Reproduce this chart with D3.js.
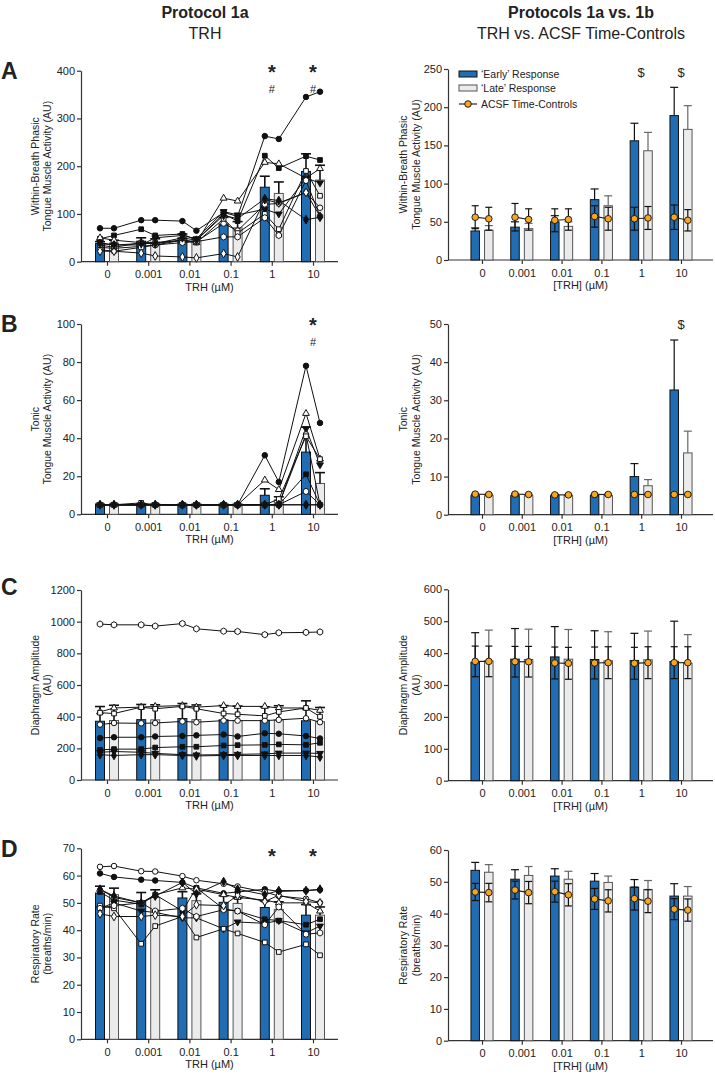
<!DOCTYPE html>
<html>
<head>
<meta charset="utf-8">
<script src="https://cdn.jsdelivr.net/npm/d3@7"></script>
<style>
  body { margin: 0; background: #fff; }
  text { font-family: "Liberation Sans", Arial, sans-serif; fill: #222; }
</style>
</head>
<body>
<svg id="chart" width="715" height="1075"></svg>
<script>
const doses = ["0", "0.001", "0.01", "0.1", "1", "10"];

// group means and SEM, 'early' and 'late' response at each dose
const phasicEarly = [38, 43, 50, 79, 156, 189];
const phasicEarlySem = [4, 7, 8, 14, 23, 37];
const phasicLate = [39, 41, 44, 71, 143, 171];
const phasicLateSem = [6, 7, 6, 13, 24, 31];
const phasicAcsfEarly = [56, 56, 52, 57, 54, 56];
const phasicAcsfEarlySem = [15, 18, 15, 14, 15, 16];
const phasicAcsfLate = [54, 53, 53, 54, 55, 52];
const phasicAcsfLateSem = [15, 14, 14, 15, 15, 14];

const tonicEarly = [5, 5, 5, 5, 10, 32.7];
const tonicEarlySem = [0.3, 0.5, 0.3, 0.3, 3.4, 13.1];
const tonicLate = [5, 5, 5, 5, 7.6, 16.2];
const tonicLateSem = [0.3, 0.3, 0.3, 0.3, 1.6, 5.7];
const tonicAcsfEarly = [5.4, 5.4, 5.2, 5.3, 5.3, 5.3];
const tonicAcsfEarlySem = [0.2, 0.2, 0.2, 0.2, 0.2, 0.2];
const tonicAcsfLate = [5.3, 5.3, 5.2, 5.3, 5.3, 5.3];
const tonicAcsfLateSem = [0.2, 0.2, 0.2, 0.2, 0.2, 0.2];

const diaEarly = [371, 381, 388, 380, 377, 374];
const diaEarlySem = [93, 96, 95, 90, 85, 126];
const diaLate = [376, 380, 381, 376, 379, 368];
const diaLateSem = [96, 95, 93, 91, 90, 90];
const diaAcsfEarly = [374, 373, 369, 369, 368, 370];
const diaAcsfEarlySem = [48, 48, 50, 50, 50, 50];
const diaAcsfLate = [374, 373, 368, 370, 370, 370];
const diaAcsfLateSem = [48, 48, 50, 50, 50, 50];

const rateEarly = [53.6, 50.8, 51.8, 50.2, 48.3, 45.5];
const rateEarlySem = [2.5, 3.0, 2.3, 2.4, 2.4, 3.9];
const rateLate = [53.0, 52.0, 50.8, 49.8, 47.6, 45.5];
const rateLateSem = [2.4, 2.8, 2.5, 2.0, 2.8, 3.0];
const rateAcsfEarly = [46.8, 47.4, 46.9, 44.6, 44.7, 41.4];
const rateAcsfEarlySem = [2.7, 2.8, 3.3, 3.3, 3.6, 3.3];
const rateAcsfLate = [46.6, 46.6, 45.9, 44.0, 43.9, 41.1];
const rateAcsfLateSem = [2.9, 3.5, 3.5, 3.5, 3.6, 3.5];

// individual animals, values ordered early/late per dose
const phasicAnimals = [
  [70, 70, 87, 87, 85, 65, 103, 95, 263, 257, 345, 356],
  [48, 55, 68, 55, 58, 45, 100, 85, 222, 196, 221, 213],
  [50, 45, 40, 38, 45, 40, 133, 127, 208, 205, 175, 195],
  [40, 35, 35, 50, 55, 48, 105, 98, 110, 100, 175, 165],
  [30, 28, 32, 35, 45, 42, 80, 65, 120, 122, 145, 113],
  [35, 30, 40, 40, 45, 40, 90, 60, 100, 68, 190, 138],
  [25, 22, 30, 35, 40, 42, 52, 52, 92, 55, 170, 95],
  [22, 22, 18, 12, 10, 8, 17, 10, 130, 123, 145, 95],
  [38, 35, 38, 38, 50, 45, 97, 90, 132, 128, 88, 93]
];
const tonicAnimals = [
  [5, 5, 5, 5, 5, 5, 5, 5, 31, 17, 78, 48],
  [5, 5, 5, 5, 5, 5, 5, 5, 5, 5, 21, 5],
  [5, 5, 5, 5, 5, 5, 5, 5, 18, 13, 53, 29],
  [5, 5, 5, 5, 5, 5, 5, 5, 5, 5, 45, 26],
  [5, 5, 5, 5, 5, 5, 5, 5, 5, 5, 42, 5],
  [5, 5, 6, 5, 5, 5, 5, 5, 5, 8, 41, 29],
  [5, 5, 5, 5, 5, 5, 5, 5, 5, 5, 12, 5],
  [5, 5, 5, 5, 5, 5, 5, 5, 5, 5, 5, 5],
  [5, 5, 5, 5, 5, 5, 5, 5, 5, 5, 5, 5]
];
const diaAnimals = [
  [265, 270, 270, 275, 278, 282, 287, 275, 295, 292, 278, 262],
  [190, 195, 195, 205, 210, 210, 218, 220, 222, 225, 222, 235],
  [430, 455, 460, 465, 470, 460, 470, 465, 465, 455, 455, 440],
  [175, 180, 175, 168, 160, 158, 160, 162, 165, 170, 170, 168],
  [350, 360, 358, 360, 370, 365, 375, 375, 375, 380, 390, 365],
  [425, 420, 460, 450, 465, 450, 420, 415, 405, 430, 455, 400],
  [985, 980, 980, 972, 988, 955, 940, 938, 918, 930, 932, 935],
  null,
  [160, 155, 160, 160, 155, 152, 155, 155, 155, 155, 155, 145]
];
const rateAnimals = [
  [60.8, 59.5, 58.5, 58.2, 57.5, 55.5, 53.5, 54, 55, 54.2, 54.5, 54.8],
  [54, 51, 49.5, 53, 47, 55.5, 47.8, 47, 44, 43.5, 42, 44],
  [55, 52, 50, 53, 55.5, 55, 53, 52, 51, 50, 50, 47],
  [48, 50, 47, 46.5, 44.5, 44.5, 40.5, 43, 42.5, 43.5, 39, 41.5],
  [63.2, 63.5, 61.6, 61.5, 59.8, 58.3, 57, 56, 54, 52.5, 51.5, 50.1],
  [49, 48, 35, 41.5, 45, 37.3, 40.5, 38.8, 35.5, 32, 34.8, 30.8],
  [48, 49, 50, 47, 48, 45, 47.5, 47, 42, 48.5, 38.5, 39],
  [46, 45, 45, 45.5, 45, 49.3, 49, 52.8, 50.5, 52.8, 50.5, 50],
  [55, 52.5, 50, 52.5, 57.5, 53.3, 57.8, 55, 53, 54.5, 54.5, 55]
];

const blue = "#216db3";
const light = "#ebebeb";
const orange = "#f5a623";

// open hexagon used by one animal
const symbolHexagon = {
  draw(context, size) {
    const r = Math.sqrt(size / 2.598);
    for (let k = 0; k < 6; k++) {
      const a = Math.PI / 6 + k * Math.PI / 3;
      const px = r * Math.cos(a), py = r * Math.sin(a);
      if (k === 0) context.moveTo(px, py); else context.lineTo(px, py);
    }
    context.closePath();
  }
};

const markers = [
  { type: d3.symbolCircle, fill: "#111", rot: 0, size: 24 },
  { type: d3.symbolSquare, fill: "#111", rot: 0, size: 22 },
  { type: d3.symbolTriangle, fill: "#fff", rot: 0, size: 20 },
  { type: d3.symbolTriangle, fill: "#111", rot: 180, size: 20 },
  { type: d3.symbolCircle, fill: "#fff", rot: 0, size: 24 },
  { type: d3.symbolSquare, fill: "#fff", rot: 0, size: 22 },
  { type: symbolHexagon, fill: "#fff", rot: 0, size: 26 },
  { type: d3.symbolDiamond, fill: "#fff", rot: 0, size: 22 },
  { type: d3.symbolDiamond, fill: "#111", rot: 0, size: 22 }
];

const svg = d3.select("#chart");

const cols = {
  left: { axisX: 81, first: 107, last: 313, end: 338, off: 7, bw: 9, t1: 35, t2: 47.5, xTitle: "TRH (\u00b5M)" },
  right: { axisX: 448, first: 482, last: 681, end: 713, off: 6.8, bw: 8.5, t1: 403, t2: 416, xTitle: "[TRH] (\u00b5M)" }
};

function frame(c, top, bottom, max, step, yTitle) {
  const x = d3.scalePoint().domain(doses).range([c.first, c.last]);
  const y = d3.scaleLinear().domain([0, max]).range([bottom, top]);
  const g = svg.append("g");

  const ya = g.append("g")
    .attr("transform", `translate(${c.axisX},0)`)
    .call(d3.axisLeft(y).tickValues(d3.range(0, max + step / 2, step)).tickFormat(d3.format("d"))
      .tickSize(4).tickSizeOuter(0).tickPadding(2));
  const xa = g.append("g")
    .attr("transform", `translate(0,${bottom})`)
    .call(d3.axisBottom(x).tickSize(4).tickSizeOuter(0).tickPadding(5));
  xa.select(".domain").attr("d", `M${c.axisX},0H${c.end}`);

  [ya, xa].forEach((a) => {
    a.selectAll("path, line").attr("stroke", "#333").attr("stroke-width", 1.2);
    a.selectAll("text").attr("font-size", 11).attr("fill", "#222")
      .attr("font-family", "'Liberation Sans', Arial, sans-serif");
  });

  g.append("text")
    .attr("x", (c.axisX + c.end) / 2)
    .attr("y", bottom + 29)
    .attr("text-anchor", "middle")
    .attr("font-size", 11)
    .text(c.xTitle);

  const mid = (top + bottom) / 2;
  [yTitle[0], yTitle[1]].forEach((t, i) => {
    g.append("text")
      .attr("transform", `translate(${i ? c.t2 : c.t1},${mid}) rotate(-90)`)
      .attr("text-anchor", "middle")
      .attr("dy", "0.35em")
      .attr("font-size", 10.5)
      .text(t);
  });

  return { g, x, y, bottom };
}

function bars(f, c, early, earlySem, late, lateSem, errEarly, errLate) {
  const sets = [
    { vals: early, sem: earlySem, dx: -c.off, fill: blue, stroke: "#111", err: errEarly },
    { vals: late, sem: lateSem, dx: c.off, fill: light, stroke: "#555", err: errLate }
  ];
  sets.forEach((s) => {
    f.g.append("g").selectAll("rect")
      .data(s.vals)
      .join("rect")
      .attr("x", (d, i) => f.x(doses[i]) + s.dx - c.bw / 2)
      .attr("y", (d) => f.y(d))
      .attr("width", c.bw)
      .attr("height", (d) => f.bottom - f.y(d))
      .attr("fill", s.fill)
      .attr("stroke", s.stroke)
      .attr("stroke-width", 1);
    const eg = f.g.append("g").attr("stroke", s.err.color).attr("stroke-width", s.err.width);
    s.vals.forEach((d, i) => {
      const cx = f.x(doses[i]) + s.dx;
      const yt = f.y(d + s.sem[i]);
      eg.append("line").attr("x1", cx).attr("x2", cx).attr("y1", f.y(d)).attr("y2", yt);
      eg.append("line").attr("x1", cx - s.err.cap).attr("x2", cx + s.err.cap).attr("y1", yt).attr("y2", yt);
    });
  });
}

function animals(f, c, series) {
  const xs = [];
  doses.forEach((d) => { xs.push(f.x(d) - c.off); xs.push(f.x(d) + c.off); });
  const line = d3.line().x((d, i) => xs[i]).y((d) => f.y(d));
  const lg = f.g.append("g");
  series.forEach((s) => {
    if (!s) return;
    lg.append("path").attr("d", line(s)).attr("fill", "none").attr("stroke", "#111").attr("stroke-width", 1);
  });
  series.forEach((s, k) => {
    if (!s) return;
    const m = markers[k];
    const sym = d3.symbol().type(m.type).size(m.size);
    lg.append("g").selectAll("path")
      .data(s)
      .join("path")
      .attr("d", sym)
      .attr("transform", (d, i) => `translate(${xs[i]},${f.y(d)}) rotate(${m.rot})`)
      .attr("fill", m.fill)
      .attr("stroke", "#111")
      .attr("stroke-width", 1);
  });
}

function acsf(f, c, early, earlySem, late, lateSem) {
  const ag = f.g.append("g");
  doses.forEach((d, i) => {
    const pts = [
      { x: f.x(d) - c.off, v: early[i], s: earlySem[i] },
      { x: f.x(d) + c.off, v: late[i], s: lateSem[i] }
    ];
    ag.append("line")
      .attr("x1", pts[0].x).attr("x2", pts[1].x)
      .attr("y1", f.y(pts[0].v)).attr("y2", f.y(pts[1].v))
      .attr("stroke", "#222").attr("stroke-width", 1.2);
    pts.forEach((p) => {
      const y1 = f.y(p.v + p.s), y2 = f.y(p.v - p.s);
      ag.append("line").attr("x1", p.x).attr("x2", p.x).attr("y1", y1).attr("y2", y2)
        .attr("stroke", "#111").attr("stroke-width", 1.2);
      [y1, y2].forEach((yy) => {
        ag.append("line").attr("x1", p.x - 3.5).attr("x2", p.x + 3.5).attr("y1", yy).attr("y2", yy)
          .attr("stroke", "#111").attr("stroke-width", 1.2);
      });
    });
    ag.selectAll(null)
      .data(pts)
      .enter()
      .append("circle")
      .attr("cx", (p) => p.x)
      .attr("cy", (p) => f.y(p.v))
      .attr("r", 3.3)
      .attr("fill", orange)
      .attr("stroke", "#111")
      .attr("stroke-width", 0.9);
  });
}

function mark(f, doseIdx, sym, y, size, bold) {
  f.g.append("text")
    .attr("x", f.x(doses[doseIdx]))
    .attr("y", y)
    .attr("text-anchor", "middle")
    .attr("font-size", size)
    .attr("font-weight", bold ? "bold" : "normal")
    .text(sym);
}

const leftErr = { color: "#111", width: 1.6, cap: 5 };
const rightErrE = { color: "#111", width: 1.2, cap: 4 };
const rightErrL = { color: "#666", width: 1.2, cap: 4 };

// ---- Panel A
let f = frame(cols.left, 70.7, 261.7, 400, 100, ["Within-Breath Phasic", "Tongue Muscle Activity (AU)"]);
bars(f, cols.left, phasicEarly, phasicEarlySem, phasicLate, phasicLateSem, leftErr, leftErr);
animals(f, cols.left, phasicAnimals);
[4, 5].forEach((i) => { mark(f, i, "*", 79, 20, true); mark(f, i, "#", 92.5, 11, false); });

f = frame(cols.right, 69, 260, 250, 50, ["Within-Breath Phasic", "Tongue Muscle Activity (AU)"]);
bars(f, cols.right, phasicEarly, phasicEarlySem, phasicLate, phasicLateSem, rightErrE, rightErrL);
acsf(f, cols.right, phasicAcsfEarly, phasicAcsfEarlySem, phasicAcsfLate, phasicAcsfLateSem);
[4, 5].forEach((i) => mark(f, i, "$", 77, 13, false));

// legend
const leg = svg.append("g").attr("transform", "translate(459,0)");
leg.append("rect").attr("x", 0).attr("y", 71).attr("width", 18).attr("height", 6)
  .attr("fill", blue).attr("stroke", "#111");
leg.append("rect").attr("x", 0).attr("y", 85).attr("width", 18).attr("height", 6)
  .attr("fill", light).attr("stroke", "#555");
leg.append("line").attr("x1", 0).attr("x2", 18).attr("y1", 104).attr("y2", 104).attr("stroke", "#222").attr("stroke-width", 1.2);
leg.append("circle").attr("cx", 9).attr("cy", 104).attr("r", 3.3).attr("fill", orange).attr("stroke", "#111").attr("stroke-width", 0.9);
[["\u2018Early\u2019 Response", 74], ["\u2018Late\u2019 Response", 88], ["ACSF Time-Controls", 104]].forEach(([t, y]) => {
  leg.append("text").attr("x", 22).attr("y", y).attr("dy", "0.35em").attr("font-size", 10.5).text(t);
});

// ---- Panel B
f = frame(cols.left, 324, 514.3, 100, 20, ["Tonic", "Tongue Muscle Activity (AU)"]);
bars(f, cols.left, tonicEarly, tonicEarlySem, tonicLate, tonicLateSem, leftErr, leftErr);
animals(f, cols.left, tonicAnimals);
mark(f, 5, "*", 332, 20, true);
mark(f, 5, "#", 345.5, 11, false);

f = frame(cols.right, 324, 514.7, 50, 10, ["Tonic", "Tongue Muscle Activity (AU)"]);
bars(f, cols.right, tonicEarly, tonicEarlySem, tonicLate, tonicLateSem, rightErrE, rightErrL);
acsf(f, cols.right, tonicAcsfEarly, tonicAcsfEarlySem, tonicAcsfLate, tonicAcsfLateSem);
mark(f, 5, "$", 329, 13, false);

// ---- Panel C
f = frame(cols.left, 590, 780, 1200, 200, ["Diaphragm Amplitude", "(AU)"]);
bars(f, cols.left, diaEarly, diaEarlySem, diaLate, diaLateSem, leftErr, leftErr);
animals(f, cols.left, diaAnimals);

f = frame(cols.right, 589.3, 780.7, 600, 100, ["Diaphragm Amplitude", "(AU)"]);
bars(f, cols.right, diaEarly, diaEarlySem, diaLate, diaLateSem, rightErrE, rightErrL);
acsf(f, cols.right, diaAcsfEarly, diaAcsfEarlySem, diaAcsfLate, diaAcsfLateSem);

// ---- Panel D
f = frame(cols.left, 848.3, 1039.3, 70, 10, ["Respiratory Rate", "(breaths/min)"]);
bars(f, cols.left, rateEarly, rateEarlySem, rateLate, rateLateSem, leftErr, leftErr);
animals(f, cols.left, rateAnimals);
[4, 5].forEach((i) => mark(f, i, "*", 863, 20, true));

f = frame(cols.right, 850, 1040.7, 60, 10, ["Respiratory Rate", "(breaths/min)"]);
bars(f, cols.right, rateEarly, rateEarlySem, rateLate, rateLateSem, rightErrE, rightErrL);
acsf(f, cols.right, rateAcsfEarly, rateAcsfEarlySem, rateAcsfLate, rateAcsfLateSem);

// ---- titles and panel letters
[["Protocol 1a", 205, 18, "bold"], ["TRH", 205, 39, "normal"],
 ["Protocols 1a vs. 1b", 581, 18, "bold"], ["TRH vs. ACSF Time-Controls", 581, 39, "normal"]]
  .forEach(([t, x, y, w]) => {
    svg.append("text").attr("x", x).attr("y", y).attr("text-anchor", "middle")
      .attr("font-size", 16).attr("font-weight", w).text(t);
  });
[["A", 79], ["B", 332], ["C", 595], ["D", 857]].forEach(([t, y]) => {
  svg.append("text").attr("x", 1).attr("y", y).attr("font-size", 23).attr("font-weight", "bold").attr("fill", "#000").text(t);
});
</script>
</body>
</html>
